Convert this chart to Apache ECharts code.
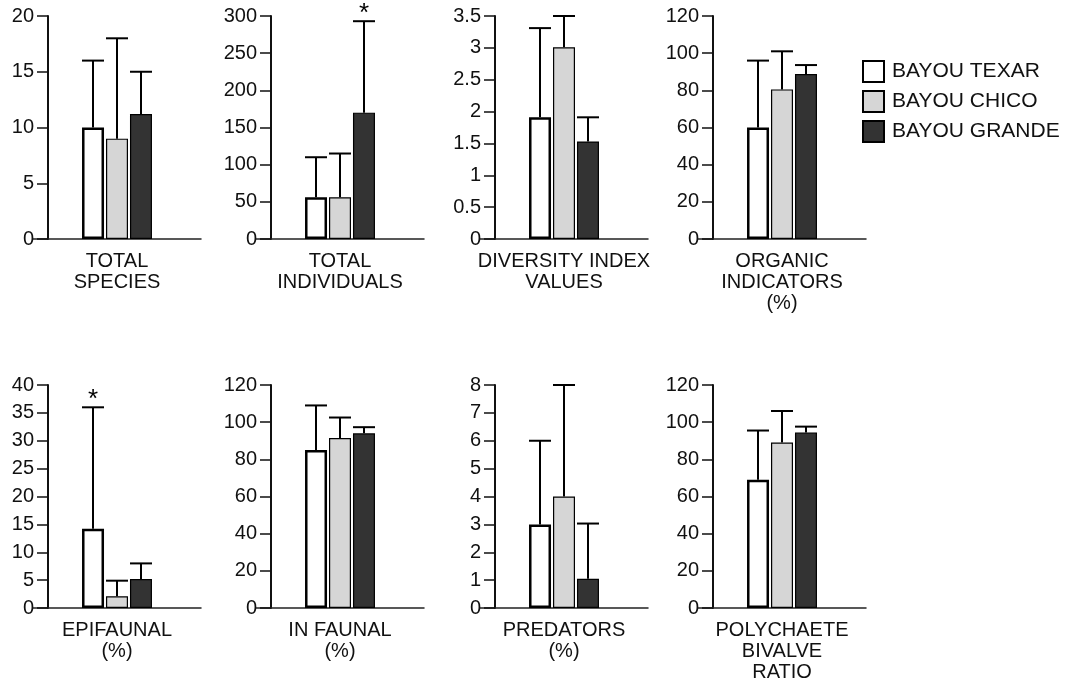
<!DOCTYPE html>
<html>
<head>
<meta charset="utf-8">
<script src="https://cdn.jsdelivr.net/npm/echarts@6/dist/echarts.min.js"></script>
<style>
  html, body { margin: 0; padding: 0; background: #fff; }
  #chart { width: 1075px; height: 688px; }
</style>
</head>
<body>
<div id="chart"></div>
<script>
// panel labels (one per small chart)
const panels = ['TOTAL\nSPECIES', 'TOTAL\nINDIVIDUALS', 'DIVERSITY INDEX\nVALUES', 'ORGANIC\nINDICATORS\n(%)',
  'EPIFAUNAL\n(%)', 'IN FAUNAL\n(%)', 'PREDATORS\n(%)', 'POLYCHAETE\nBIVALVE\nRATIO']
const seriesNames = ['BAYOU TEXAR', 'BAYOU CHICO', 'BAYOU GRANDE']
// means
const texar = [10, 56, 1.91, 60, 14.2, 85, 3.0, 69]
const chico = [9, 56, 3.01, 80.5, 2.1, 91.5, 4.0, 89]
const grande = [11.2, 170, 1.53, 88.8, 5.2, 94, 1.05, 94.4]
// top of error bars
const texarErr = [16, 110, 3.31, 96, 36, 109, 6, 95.5]
const chicoErr = [18, 115, 3.5, 101, 4.9, 102.5, 8, 106]
const grandeErr = [15, 293, 1.91, 93.6, 8, 97.3, 3.03, 97.6]
// axis ranges
const yMax = [20, 300, 3.5, 120, 40, 120, 8, 120]
const yStep = [5, 50, 0.5, 20, 5, 20, 1, 20]
// significance marks: panel index -> bar index
const stars = { 1: 2, 4: 0 }

const means = [texar, chico, grande]
const errs = [texarErr, chicoErr, grandeErr]
const fills = ['#ffffff', '#d6d6d6', '#333333']
const borders = [2.5, 1.2, 1.2]

const gridLefts = [37, 260, 484, 702]
const gridTops = [16, 385]
const gridW = 168
const gridH = 223

const font = '"Liberation Sans", Arial, sans-serif'

let grids = [], xAxes = [], yAxes = [], series = []

for (let p = 0; p < 8; p++) {
  const col = p % 4
  const row = Math.floor(p / 4)
  grids.push({ left: gridLefts[col] - 4, top: gridTops[row], width: gridW, height: gridH })
  xAxes.push({
    type: 'category',
    gridIndex: p,
    data: [panels[p]],
    axisLine: { lineStyle: { color: '#222', width: 1.5 } },
    axisTick: { show: false },
    axisLabel: { color: '#111', fontSize: 20, fontFamily: font, lineHeight: 21, margin: 12, interval: 0 }
  })
  yAxes.push({
    type: 'value',
    gridIndex: p,
    min: 0,
    max: yMax[p],
    interval: yStep[p],
    offset: -15,
    splitLine: { show: false },
    axisLine: { show: true, lineStyle: { color: '#111', width: 2 } },
    axisTick: { show: true, length: 11, lineStyle: { color: '#111', width: 1.5 } },
    axisLabel: { color: '#111', fontSize: 20, fontFamily: font, margin: 14 }
  })
  for (let s = 0; s < 3; s++) {
    series.push({
      name: seriesNames[s],
      type: 'bar',
      xAxisIndex: p,
      yAxisIndex: p,
      barWidth: 22,
      barGap: '9%',
      data: [means[s][p]],
      itemStyle: { color: fills[s], borderColor: '#000', borderWidth: borders[s] }
    })
  }
  // error bars (upper only)
  series.push({
    type: 'custom',
    xAxisIndex: p,
    yAxisIndex: p,
    z: 5,
    data: [0, 1, 2].map(s => [0, means[s][p], errs[s][p], s]),
    renderItem: function (params, api) {
      const s = api.value(3)
      const base = api.coord([0, api.value(1)])
      const top = api.coord([0, api.value(2)])
      const x = base[0] + (s - 1) * 24
      const children = [
        { type: 'line', shape: { x1: x, y1: base[1], x2: x, y2: top[1] }, style: { stroke: '#000', lineWidth: 2 } },
        { type: 'line', shape: { x1: x - 11, y1: top[1], x2: x + 11, y2: top[1] }, style: { stroke: '#000', lineWidth: 2 } }
      ]
      if (stars[p] === s) {
        children.push({
          type: 'text',
          style: { text: '*', x: x, y: top[1] + 6, fill: '#000', font: '26px ' + font, align: 'center', verticalAlign: 'bottom' }
        })
      }
      return { type: 'group', children: children }
    }
  })
}

const chart = echarts.init(document.getElementById('chart'))
chart.setOption({
  animation: false,
  backgroundColor: '#fff',
  legend: {
    data: seriesNames,
    orient: 'vertical',
    icon: 'rect',
    left: 857,
    top: 55,
    itemWidth: 21,
    itemHeight: 21,
    itemGap: 7,
    selectedMode: false,
    textStyle: { color: '#111', fontSize: 21, fontFamily: font, padding: [0, 0, 0, 3] }
  },
  grid: grids,
  xAxis: xAxes,
  yAxis: yAxes,
  series: series
})
</script>
</body>
</html>
